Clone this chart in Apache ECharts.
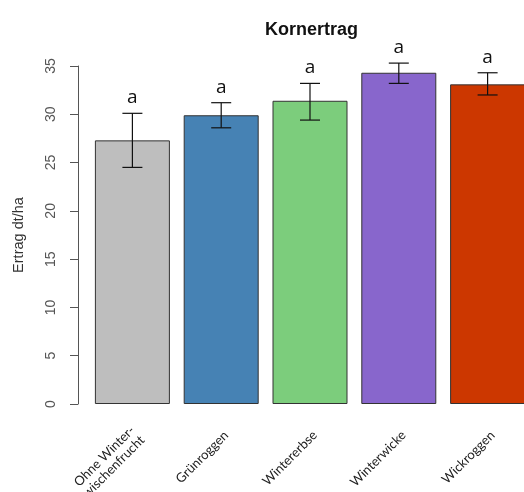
<!DOCTYPE html>
<html><head><meta charset="utf-8">
<script src="https://cdn.jsdelivr.net/npm/echarts@6/dist/echarts.min.js"></script>
<style>html,body{margin:0;padding:0;background:#fff}#c{width:524px;height:492px}</style>
</head><body><div id="c"></div>
<script>
const categories = ['Ohne Winter-\nzwischenfrucht', 'Grünroggen', 'Wintererbse', 'Winterwicke', 'Wickroggen'];
const means = [27.3, 29.9, 31.4, 34.3, 33.1];
const errLow = [24.5, 28.6, 29.4, 33.2, 32.0];
const errHigh = [30.1, 31.2, 33.2, 35.3, 34.3];
const letters = ['a', 'a', 'a', 'a', 'a'];
const colors = ['#BEBEBE', '#4682B4', '#7CCD7C', '#8866CC', '#CC3700'];
const yTicks = [0, 5, 10, 15, 20, 25, 30, 35];

const chart = echarts.init(document.getElementById('c'));
chart.setOption({
  animation: false,
  title: {
    text: 'Kornertrag', left: 260, top: 16,
    textStyle: { fontFamily: 'Liberation Sans', fontSize: 18, fontWeight: 'bold', color: '#111' }
  },
  grid: { left: 88, width: 444, top: 66, height: 338, outerBoundsMode: 'none', containLabel: false },
  xAxis: {
    type: 'category', data: categories,
    axisLine: { show: false }, axisTick: { show: false },
    axisLabel: { rotate: 45, margin: 34, padding: [0, -7, 0, 0], fontFamily: 'Lato', fontSize: 13, color: '#222', lineHeight: 14, interval: 0 }
  },
  yAxis: {
    type: 'value', min: yTicks[0], max: yTicks[yTicks.length - 1], interval: 5, offset: 10,
    name: 'Ertrag dt/ha', nameLocation: 'middle', nameGap: 52,
    nameTextStyle: { fontFamily: 'Liberation Sans', fontSize: 14.5, color: '#333' },
    axisLine: { show: true, lineStyle: { color: '#555', width: 1 } },
    axisTick: { show: true, length: 8, lineStyle: { color: '#555' } },
    axisLabel: { rotate: 90, margin: 20, fontFamily: 'Liberation Sans', fontSize: 14, color: '#555' },
    splitLine: { show: false }
  },
  series: [
    {
      type: 'bar', barWidth: 75,
      data: means.map((v, i) => ({ value: v, itemStyle: { color: colors[i] } })),
      itemStyle: { borderColor: '#333', borderWidth: 1 }
    },
    {
      type: 'custom', clip: false, z: 10,
      data: means.map((v, i) => [i, errLow[i], errHigh[i], letters[i]]),
      renderItem: function (params, api) {
        const x = api.value(0);
        const lo = api.coord([x, api.value(1)]);
        const hi = api.coord([x, api.value(2)]);
        const cw = 10;
        const st = { stroke: '#111', lineWidth: 1.2 };
        return {
          type: 'group',
          children: [
            { type: 'line', shape: { x1: lo[0], y1: lo[1], x2: hi[0], y2: hi[1] }, style: st },
            { type: 'line', shape: { x1: lo[0] - cw, y1: lo[1], x2: lo[0] + cw, y2: lo[1] }, style: st },
            { type: 'line', shape: { x1: hi[0] - cw, y1: hi[1], x2: hi[0] + cw, y2: hi[1] }, style: st },
            { type: 'text', style: { x: hi[0], y: hi[1] - 6, text: letters[params.dataIndex], align: 'center', verticalAlign: 'bottom',
              fontFamily: 'Open Sans', fontSize: 19, fill: '#111' } }
          ]
        };
      }
    }
  ]
});
</script></body></html>
